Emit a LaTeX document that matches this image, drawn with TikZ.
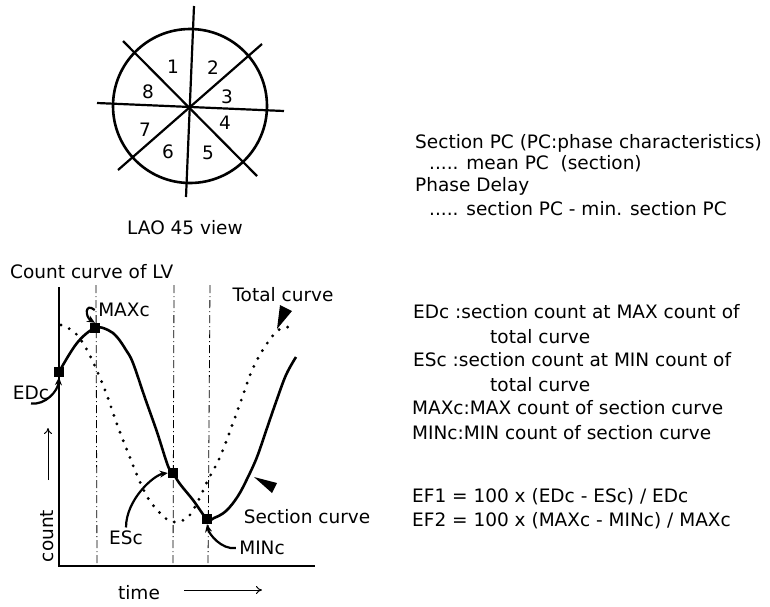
\documentclass[tikz,border=0pt]{standalone}
\usepackage{fontspec}
\setmainfont{DejaVu Sans}
\usetikzlibrary{arrows.meta}

\begin{document}
\begin{tikzpicture}
  [x=1pt, y=-1pt, font=\fontsize{18.5}{21}\selectfont,
   sqmark/.style={fill=black, inner sep=0pt, minimum size=10pt},
   axisline/.style={line width=2.6pt},
   sectcurve/.style={line width=2.6pt, line join=round},
   totcurve/.style={line width=3.2pt, line cap=round, dash pattern=on 0pt off 9pt},
   gridline/.style={line width=0.8pt, dash pattern=on 8pt off 3pt on 1pt off 3pt},
   txt/.style={anchor=west, inner sep=0pt},
   callout/.style={line width=2.2pt, -{Stealth[length=8pt,width=7pt]}},
   plainarrow/.style={line width=1pt, -{To[length=6pt,width=8pt]}}]

  \useasboundingbox (0,0) rectangle (770,606);

  % Vista LAO 45
  \node[circle, draw, line width=2.6pt, minimum size=154pt, inner sep=0pt] (lao) at (190,106) {};
  \foreach \p/\q in {{194,6}/{186,197}, {97,103}/{284,111}, {123,41}/{257,176}, {262,44}/{118,170}}
    \draw[line width=2.2pt] (\p) -- (\q);
  \foreach \n/\x/\y in {1/173/67, 2/213/68, 3/227/97, 4/225/123, 5/208/153, 6/168/152, 7/145/130, 8/148/92}
    \node (sec\n) at (\x,\y) {\n};
  \node (laolab) at (185,228) {LAO 45 view};

  % Ejes
  \coordinate (org) at (59,566);
  \draw[axisline] (59,287) -- (org) -- (315,566);
  \foreach \a/\b in {96/97, 174/173, 210/208}
    \draw[gridline] (\a,285) -- (\b,566);

  % Curva total (punteada)
  \draw[totcurve] plot[smooth, tension=0.6] coordinates {(61,325) (73,331) (83,343) (93,362) (105,390)
    (118,427) (127,450) (137,475) (148,498) (162,515) (173,522) (187,518) (197,503) (208,480)
    (220,457) (233,423) (242,398) (253,368) (268,342) (280,329) (291,327)};

  % Curva de seccion
  \draw[sectcurve] plot[smooth, tension=0.6] coordinates {(59,372) (77,343) (95,328) (108,330)
    (117,337) (126,350) (133,363) (145,398) (157,432) (168,466) (173,473) (180,484) (193,500)
    (207,519) (214,518) (226,511) (238,496) (248,477) (257,457) (266,431) (276,402) (286,375)
    (296,357)};

  % Puntos marcados
  \node[sqmark] (edc) at (59,372) {};
  \node[sqmark] (maxc) at (95,328) {};
  \node[sqmark] (esc) at (173,473) {};
  \node[sqmark] (minc) at (207,519) {};

  % Etiquetas
  \node[txt] (lvlab) at (10,272) {Count curve of LV};
  \node (totlab) at (283,295) {Total curve};
  \node (maxclab) at (124,310) {MAXc};
  \node (edclab) at (31,393) {EDc};
  \node (esclab) at (126,538) {ESc};
  \node (minclab) at (262,548) {MINc};
  \node (seclab) at (307,517) {Section curve};
  \node[rotate=90] (countlab) at (47,536) {count};
  \node (timelab) at (139,593) {time};

  % Flechas de las etiquetas
  \draw[callout] (edclab.south) .. controls +(14,2) and +(-1,14) .. (edc.south);
  \draw[callout] (maxclab.west) .. controls +(-10,-8) and +(-10,-6) .. (maxc.north);
  \draw[callout] (esclab.north) .. controls +(0,-28) and +(-14,2) .. (esc.west);
  \draw[callout] (minclab.west) .. controls +(-14,2) and +(2,10) .. (minc.south);
  \fill (277,329) -- (280,305) -- (292,311) -- cycle;
  \fill (254,477) -- (277,483) -- (272,493) -- cycle;

  % Flechas de los ejes
  \coordinate (cnt0) at (48,480);
  \coordinate (cnt1) at (48,428);
  \draw[plainarrow] (cnt0) -- (cnt1);
  \coordinate (tim0) at (184,590);
  \coordinate (tim1) at (262,590);
  \draw[plainarrow] (tim0) -- (tim1);

  % Texto a la derecha
  \node[txt] (pc1) at (415,143) {Section PC (PC:phase characteristics)};
  \node[txt] (pc2) at (429,164) {..... mean PC\ \ (section)};
  \node[txt] (pd1) at (415,186) {Phase Delay};
  \node[txt] (pd2) at (429,209) {..... section PC - min. section PC};

  \node[txt] (def1) at (413,312) {EDc :section count at MAX count of};
  \node[txt] (def1b) at (490,337) {total curve};
  \node[txt] (def2) at (413,360) {ESc :section count at MIN count of};
  \node[txt] (def2b) at (490,385) {total curve};
  \node[txt] (def3) at (412,408) {MAXc:MAX count of section curve};
  \node[txt] (def4) at (412,433) {MINc:MIN count of section curve};

  \node[txt] (ef1) at (412,497) {EF1 = 100 x (EDc - ESc) / EDc};
  \node[txt] (ef2) at (412,521) {EF2 = 100 x (MAXc - MINc) / MAXc};
\end{tikzpicture}
\end{document}
